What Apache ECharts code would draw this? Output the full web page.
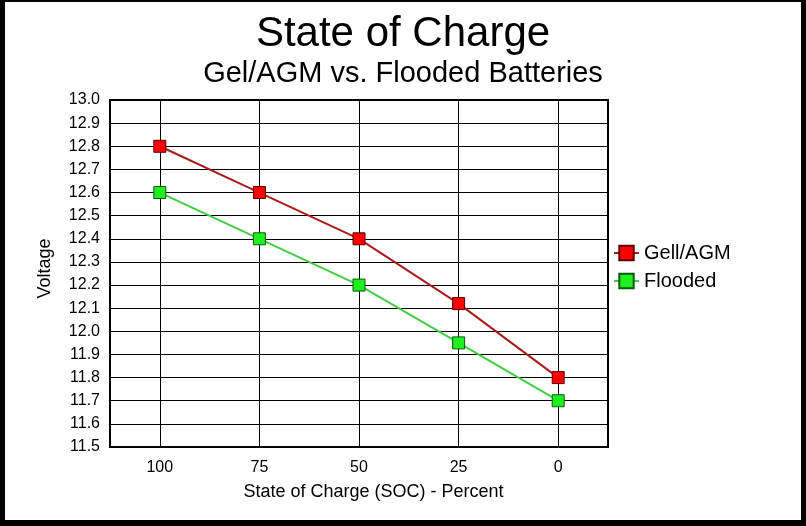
<!DOCTYPE html>
<html>
<head>
<meta charset="utf-8">
<script src="https://cdn.jsdelivr.net/npm/echarts@6/dist/echarts.min.js"></script>
<style>
  html, body { margin: 0; padding: 0; background: #000; }
  #frame {
    width: 796px; height: 518px;
    border-style: solid; border-color: #000;
    border-width: 2px 5px 6px 5px;
    background: #fff;
  }
  #main { width: 796px; height: 518px; }
</style>
</head>
<body>
<div id="frame"><div id="main"></div></div>
<script>
// chart data
const socLabels = ['100', '75', '50', '25', '0'];
const gelAgm = [12.8, 12.6, 12.4, 12.12, 11.8];
const flooded = [12.6, 12.4, 12.2, 11.95, 11.7];
const seriesNames = ['Gell/AGM', 'Flooded'];

const font = "'Liberation Sans', Arial, sans-serif";

const myChart = echarts.init(document.getElementById('main'));

const option = {
  backgroundColor: '#fff',
  animation: false,
  title: [
    {
      text: 'State of Charge',
      left: 'center',
      top: 6,
      textStyle: { fontFamily: font, fontSize: 42, fontWeight: 'normal', color: '#000' }
    },
    {
      text: 'Gel/AGM vs. Flooded Batteries',
      left: 'center',
      top: 52,
      textStyle: { fontFamily: font, fontSize: 29, fontWeight: 'normal', color: '#000' }
    }
  ],
  legend: {
    orient: 'vertical',
    left: 603,
    top: 236,
    itemWidth: 25,
    itemHeight: 18,
    itemGap: 8,
    data: seriesNames,
    textStyle: { fontFamily: font, fontSize: 20, color: '#000' }
  },
  grid: {
    left: 105,
    top: 98,
    width: 498,
    height: 347,
    show: true,
    borderColor: '#000',
    borderWidth: 2,
    backgroundColor: '#fff'
  },
  xAxis: {
    type: 'category',
    data: socLabels,
    boundaryGap: true,
    name: 'State of Charge (SOC) - Percent',
    nameLocation: 'middle',
    nameGap: 36,
    nameTextStyle: { fontFamily: font, fontSize: 18, color: '#000', padding: [0, 0, 0, 29] },
    axisLine: { lineStyle: { color: '#000', width: 2 } },
    axisTick: { show: false },
    axisLabel: { fontFamily: font, fontSize: 16, color: '#000', margin: 13 },
    splitLine: { show: true, alignWithLabel: true, lineStyle: { color: '#000', width: 1 } }
  },
  yAxis: {
    type: 'value',
    min: 11.5,
    max: 13.0,
    interval: 0.1,
    name: 'Voltage',
    nameLocation: 'middle',
    nameGap: 56,
    nameTextStyle: { fontFamily: font, fontSize: 18, color: '#000', padding: [0, 0, 0, 10] },
    axisLine: { show: true, lineStyle: { color: '#000', width: 2 } },
    axisTick: { show: false },
    axisLabel: {
      fontFamily: font, fontSize: 16, color: '#000', margin: 10,
      formatter: v => v.toFixed(1)
    },
    splitLine: { show: true, lineStyle: { color: '#000', width: 1 } }
  },
  series: [
    {
      name: seriesNames[0],
      type: 'line',
      data: gelAgm,
      symbol: 'rect',
      symbolSize: 12,
      lineStyle: { color: '#a81c1c', width: 2 },
      itemStyle: { color: '#ff0000', borderColor: '#5a0000', borderWidth: 1 }
    },
    {
      name: seriesNames[1],
      type: 'line',
      data: flooded,
      symbol: 'rect',
      symbolSize: 12,
      lineStyle: { color: '#44cc44', width: 2 },
      itemStyle: { color: '#1fee1f', borderColor: '#0a5a0a', borderWidth: 1 }
    }
  ]
};

myChart.setOption(option);
</script>
</body>
</html>
